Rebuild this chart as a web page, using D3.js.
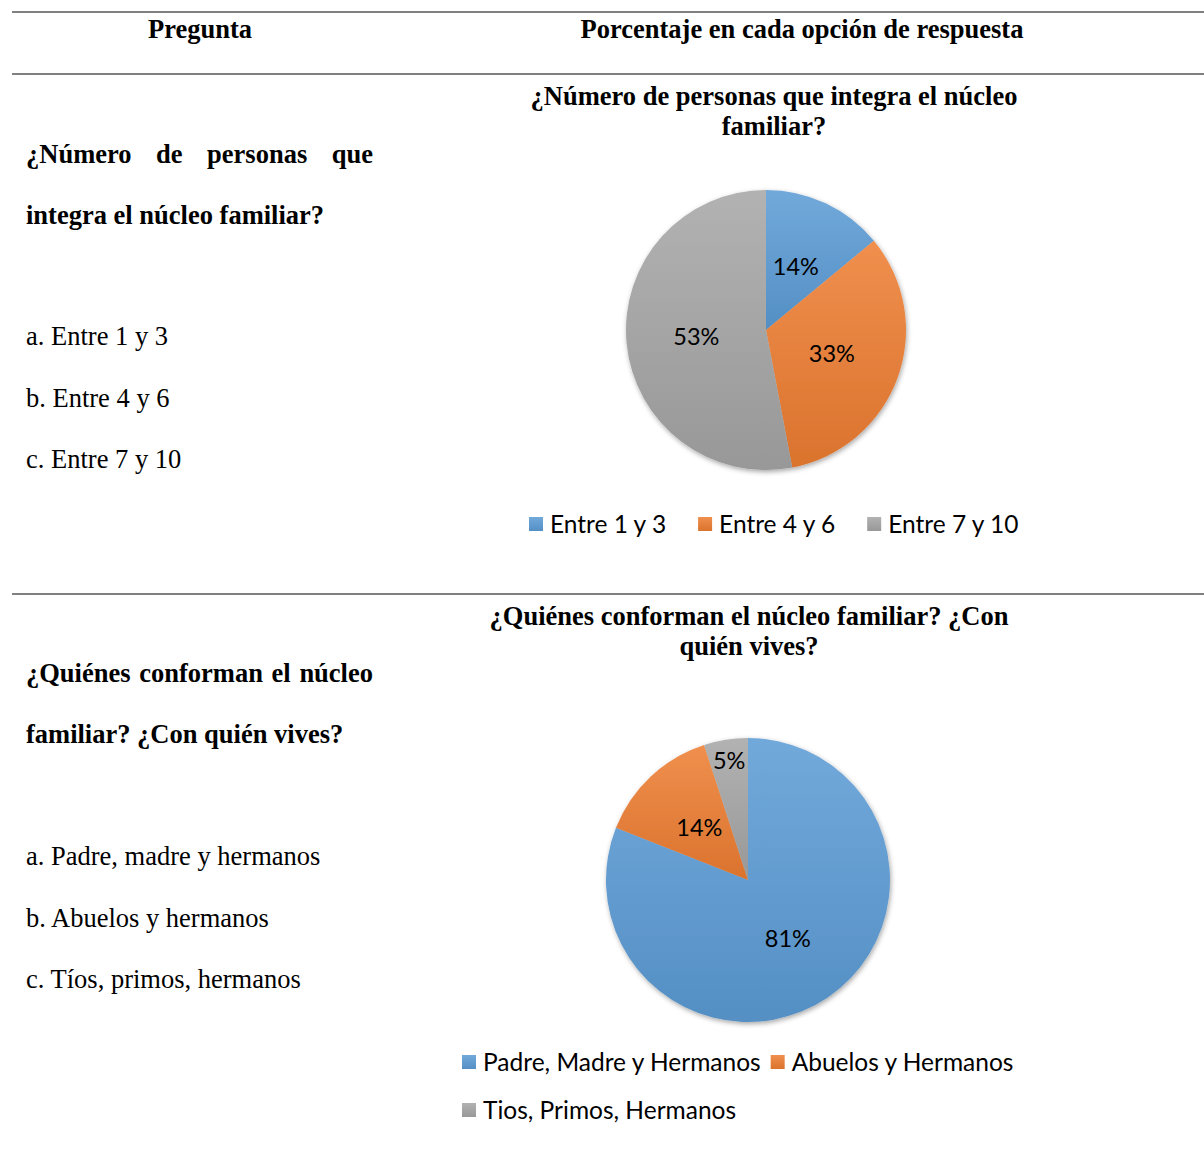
<!DOCTYPE html>
<html lang="es">
<head>
<meta charset="UTF-8">
<title>Núcleo familiar</title>
<script src="https://d3js.org/d3.v7.min.js"></script>
<style>
  body { margin: 0; background: #fff; }
  .serif { font-family: "Liberation Serif", "Times New Roman", serif; fill: #000; }
  .sans { font-family: Lato, "Open Sans", sans-serif; fill: #000; }
</style>
</head>
<body>
<svg width="1204" height="1171"></svg>
<script>
const headers = ["Pregunta", "Porcentaje en cada opción de respuesta"];

const q1Title = ["¿Número de personas que integra el núcleo", "familiar?"];
const q1Question = ["¿Número de personas que", "integra el núcleo familiar?"];
const q1Options = ["a. Entre 1 y 3", "b. Entre 4 y 6", "c. Entre 7 y 10"];
const q1Categories = ["Entre 1 y 3", "Entre 4 y 6", "Entre 7 y 10"];
const q1Values = [14, 33, 53];

const q2Title = ["¿Quiénes conforman el núcleo familiar? ¿Con", "quién vives?"];
const q2Question = ["¿Quiénes conforman el núcleo", "familiar? ¿Con quién vives?"];
const q2Options = ["a. Padre, madre y hermanos", "b. Abuelos y hermanos", "c. Tíos, primos, hermanos"];
const q2Categories = ["Padre, Madre y Hermanos", "Abuelos y Hermanos", "Tios, Primos, Hermanos"];
const q2Values = [81, 14, 5];

const seriesColors = ["#5B9BD5", "#ED7D31", "#A5A5A5"];

const serifSize = 26.5, sansSize = 24.5, labelSize = 23.5;

const svg = d3.select("svg");
const defs = svg.append("defs");

// slice gradients, lighter at top like the Office style
seriesColors.forEach((c, i) => {
  const gr = defs.append("linearGradient").attr("id", "grad" + i)
    .attr("x1", 0).attr("y1", 0).attr("x2", 0).attr("y2", 1);
  gr.append("stop").attr("offset", "0%").attr("stop-color", d3.interpolateRgb(c, "#fff")(0.14));
  gr.append("stop").attr("offset", "100%").attr("stop-color", d3.interpolateRgb(c, "#000")(0.08));
});
const shadow = defs.append("filter").attr("id", "shadow")
  .attr("x", "-20%").attr("y", "-20%").attr("width", "140%").attr("height", "140%");
shadow.append("feDropShadow").attr("dx", 1).attr("dy", 2).attr("stdDeviation", 2.5)
  .attr("flood-color", "#000").attr("flood-opacity", 0.35);

// table rules
[12, 74, 594].forEach(y => {
  svg.append("line").attr("x1", 12).attr("x2", 1204).attr("y1", y).attr("y2", y)
    .attr("stroke", "#808080").attr("stroke-width", 2);
});

// header row
svg.append("text").attr("class", "serif").attr("x", 200).attr("y", 38)
  .attr("text-anchor", "middle").attr("font-size", serifSize).attr("font-weight", "bold").text(headers[0]);
svg.append("text").attr("class", "serif").attr("x", 802).attr("y", 38)
  .attr("text-anchor", "middle").attr("font-size", serifSize).attr("font-weight", "bold").text(headers[1]);

function justifyLine(text, x0, x1, y) {
  const words = text.split(" ");
  const nodes = words.map(w => svg.append("text").attr("class", "serif")
    .attr("font-size", serifSize).attr("font-weight", "bold").attr("y", y).text(w));
  const widths = nodes.map(n => n.node().getComputedTextLength());
  const gap = (x1 - x0 - d3.sum(widths)) / (words.length - 1);
  let x = x0;
  nodes.forEach((n, i) => { n.attr("x", x); x += widths[i] + gap; });
}

const panels = [
  { title: q1Title, question: q1Question, options: q1Options, cats: q1Categories, values: q1Values,
    titleX: 774, titleY: 105, qY: 163, optY: 345, cx: 766, cy: 330, r: 140,
    legendX: 529, legendY: 524, legendGap: 32, legendRows: [0, 0, 0] },
  { title: q2Title, question: q2Question, options: q2Options, cats: q2Categories, values: q2Values,
    titleX: 749, titleY: 625, qY: 682, optY: 865, cx: 748, cy: 880, r: 142,
    legendX: 462, legendY: 1062, legendGap: 10, legendRows: [0, 0, 1] }
];

panels.forEach(p => {
  // question column
  justifyLine(p.question[0], 26, 373, p.qY);
  svg.append("text").attr("class", "serif").attr("x", 26).attr("y", p.qY + 61)
    .attr("font-size", serifSize).attr("font-weight", "bold").text(p.question[1]);
  p.options.forEach((o, i) => {
    svg.append("text").attr("class", "serif").attr("x", 26).attr("y", p.optY + i * 61.5)
      .attr("font-size", serifSize).text(o);
  });

  // chart title
  const t = svg.append("text").attr("class", "serif").attr("text-anchor", "middle")
    .attr("font-size", serifSize).attr("font-weight", "bold");
  p.title.forEach((line, i) => {
    t.append("tspan").attr("x", p.titleX).attr("y", p.titleY + i * 30).text(line);
  });

  // pie
  const pie = d3.pie().sort(null).value(d => d);
  const arcs = pie(p.values);
  const arc = d3.arc().innerRadius(0).outerRadius(p.r);
  const g = svg.append("g").attr("transform", `translate(${p.cx},${p.cy})`);
  g.append("g").attr("filter", "url(#shadow)")
    .selectAll("path").data(arcs).enter().append("path")
    .attr("d", arc)
    .attr("fill", (d, i) => `url(#grad${i})`);

  const total = d3.sum(p.values);
  g.selectAll(".lbl").data(arcs).enter().append("text")
    .attr("class", "sans lbl")
    .attr("font-size", labelSize)
    .attr("text-anchor", "middle")
    .attr("dy", "0.35em")
    .attr("transform", d => {
      const lr = d.data / total < 0.08 ? p.r * 0.85 : p.r * 0.5;
      const c = d3.arc().innerRadius(lr).outerRadius(lr).centroid(d);
      return `translate(${c[0]},${c[1]})`;
    })
    .text(d => Math.round(d.data / total * 100) + "%");

  // legend
  let x = p.legendX, row = 0;
  p.cats.forEach((c, i) => {
    if (p.legendRows[i] !== row) { row = p.legendRows[i]; x = p.legendX; }
    const y = p.legendY + row * 48;
    svg.append("rect").attr("x", x).attr("y", y - 7).attr("width", 14).attr("height", 14)
      .attr("fill", `url(#grad${i})`);
    const lt = svg.append("text").attr("class", "sans").attr("x", x + 21).attr("y", y)
      .attr("dy", "0.35em").attr("font-size", sansSize).text(c);
    x += 21 + lt.node().getComputedTextLength() + p.legendGap;
  });
});
</script>
</body>
</html>
